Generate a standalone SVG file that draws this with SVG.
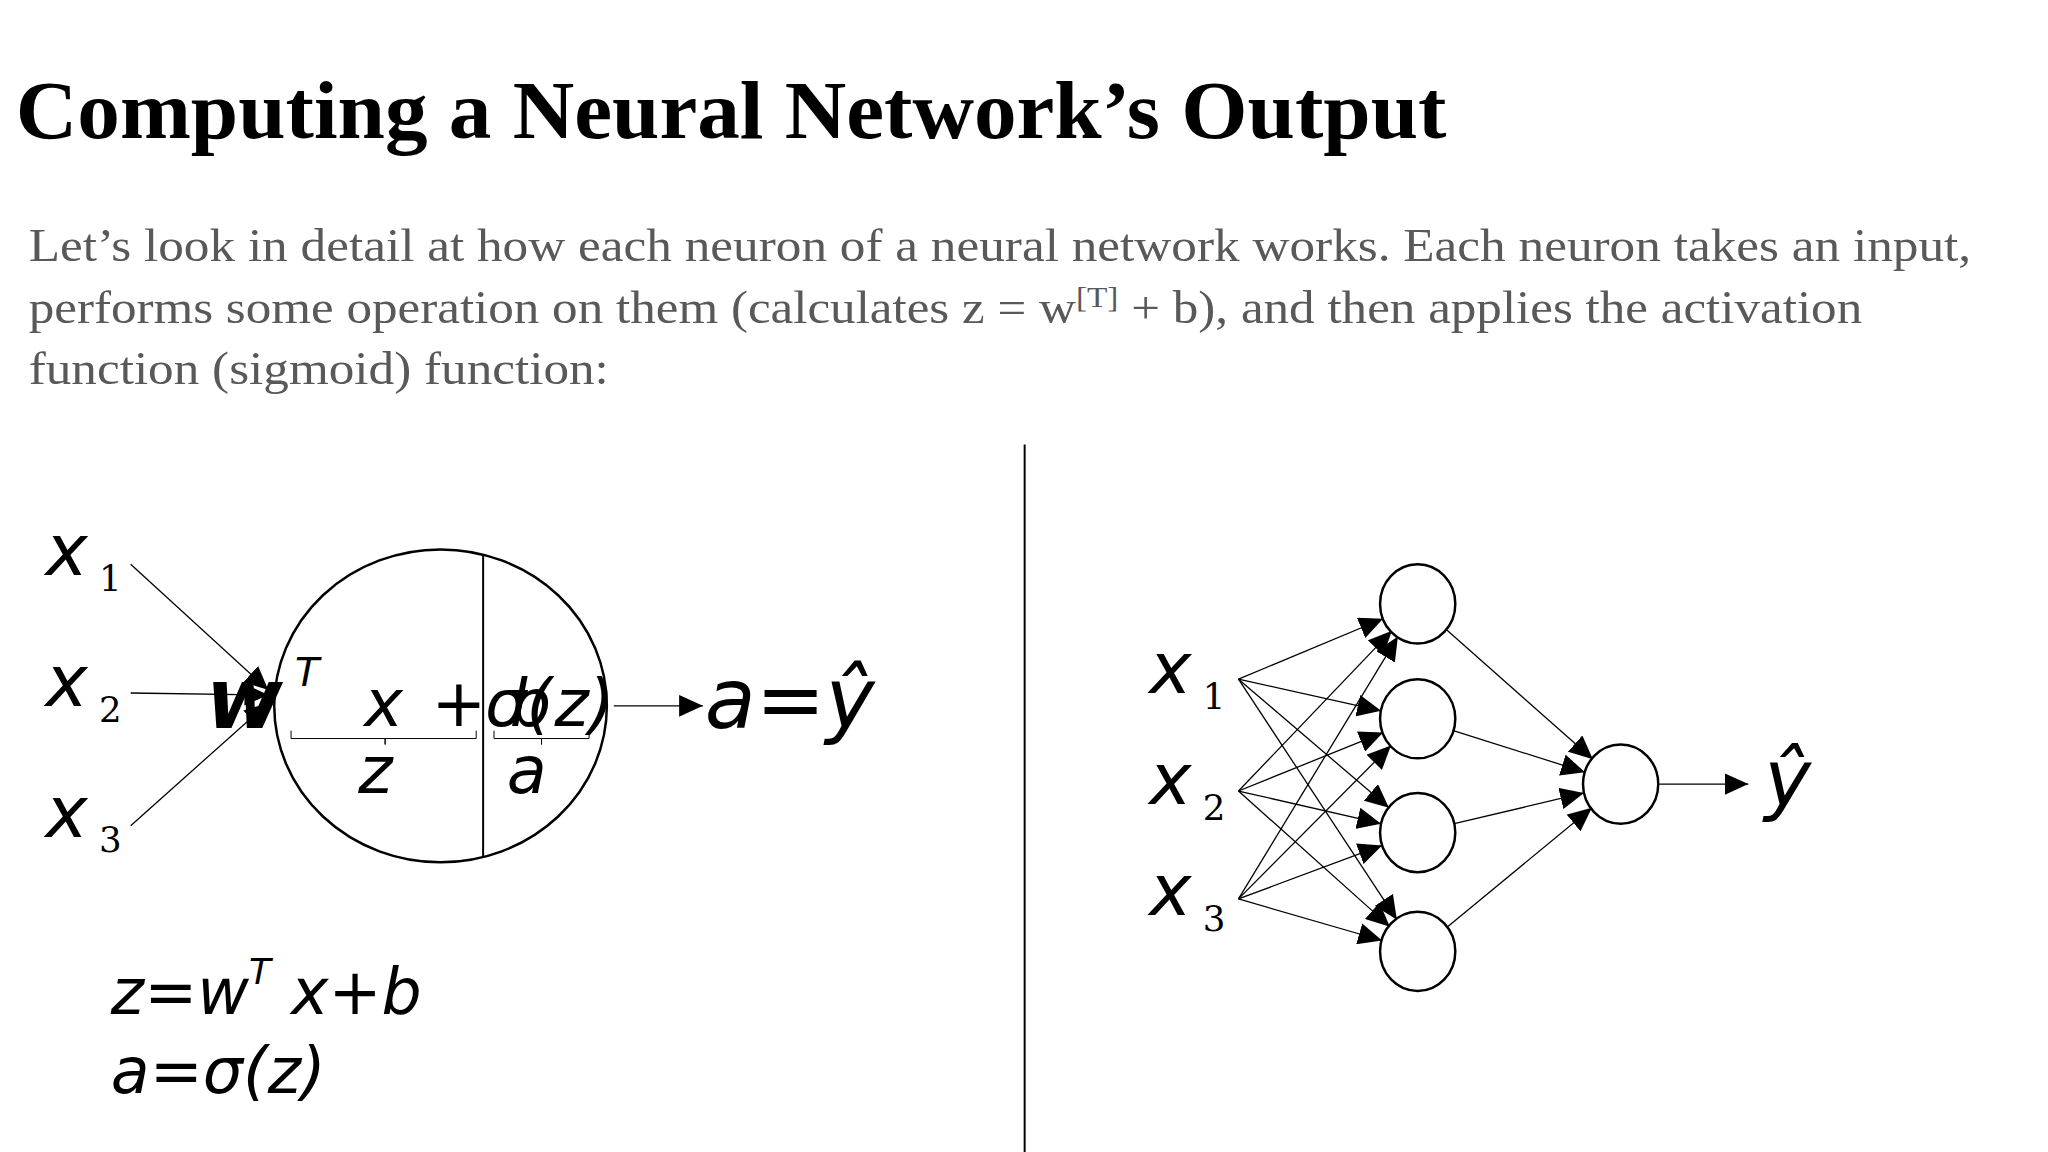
<svg xmlns="http://www.w3.org/2000/svg" width="2048" height="1152" viewBox="0 0 2048 1152">
<style>
.title{font-family:"Liberation Serif",serif;font-weight:bold;font-size:84px;fill:#000}
.para{font-family:"Liberation Serif",serif;font-size:46px;fill:#595959}
.m{font-family:"DejaVu Sans",sans-serif;font-style:italic;fill:#000}
.sub{font-family:"DejaVu Serif",serif;font-size:36px;fill:#000}
.e{stroke:#000;stroke-width:1.3;fill:none;marker-end:url(#ah)}
.n{fill:#fff;stroke:#000;stroke-width:2.5}
</style>
<defs>
<marker id="ah" markerUnits="userSpaceOnUse" markerWidth="26" markerHeight="22" refX="24" refY="11" orient="auto"><path d="M0,0 L24,11 L0,22 Z" fill="#000"/></marker>
</defs>
<rect width="2048" height="1152" fill="#fff"/>
<g transform="scale(0.99)">
<text class="title" x="16" y="139" textLength="1445" lengthAdjust="spacingAndGlyphs">Computing a Neural Network’s Output</text>
<text class="para" x="29" y="264" textLength="1962" lengthAdjust="spacingAndGlyphs">Let’s look in detail at how each neuron of a neural network works. Each neuron takes an input,</text>
<text class="para" x="29" y="326" textLength="1852" lengthAdjust="spacingAndGlyphs">performs some operation on them (calculates z = w<tspan font-size="30" dy="-16">[T]</tspan><tspan dy="16"> + b), and then applies the activation</tspan></text>
<text class="para" x="29" y="388" textLength="586" lengthAdjust="spacingAndGlyphs">function (sigmoid) function:</text>
<line x1="1035" y1="449" x2="1035" y2="1170" stroke="#000" stroke-width="2"/>

<g id="neuron">
<ellipse cx="445" cy="713" rx="168" ry="158" fill="none" stroke="#000" stroke-width="2.5"/>
<line x1="488" y1="561" x2="488" y2="865" stroke="#000" stroke-width="2"/>
<text class="m" x="208" y="735" font-size="84" font-weight="bold">w</text>
<text class="m" x="298" y="693" font-size="40">T</text>
<text class="m" x="368" y="733" font-size="66">x</text>
<text class="m" x="436" y="733" font-size="66">+</text>
<text class="m" x="490" y="733" font-size="66">σ(</text>
<text class="m" x="515" y="733" font-size="66">b</text>
<text class="m" x="560" y="733" font-size="66">z)</text>
<path d="M294,738 v8 h95 v6 M389,752 v-6 h92 v-8" fill="none" stroke="#000" stroke-width="1"/>
<path d="M499,738 v8 h48 v6 M547,752 v-6 h48 v-8" fill="none" stroke="#000" stroke-width="1"/>
<text class="m" x="362" y="801" font-size="66">z</text>
<text class="m" x="512" y="801" font-size="66">a</text>
<text class="m" x="712" y="735" font-size="84">a=ŷ</text>
</g>
<g id="inputs-left">
<text class="m" x="46" y="581" font-size="72">x</text><text class="sub" x="100" y="597">1</text>
<text class="m" x="46" y="713" font-size="72">x</text><text class="sub" x="100" y="729">2</text>
<text class="m" x="46" y="845" font-size="72">x</text><text class="sub" x="100" y="861">3</text>
</g>
<g id="formulas">
<text class="m" x="112" y="1024" font-size="64">z=w<tspan font-size="36" dy="-30">T</tspan><tspan dy="30"> x+b</tspan></text>
<text class="m" x="112" y="1104" font-size="64">a=σ(z)</text>
</g>

<g id="connectors-left">
<line class="e" x1="132" y1="570" x2="271" y2="697"/>
<line class="e" x1="132" y1="700" x2="271" y2="702"/>
<line class="e" x1="132" y1="834" x2="271" y2="710"/>
<line class="e" x1="620" y1="713" x2="710" y2="713"/>
</g>

<g id="inputs-right">
<text class="m" x="1161" y="700" font-size="72">x</text><text class="sub" x="1215" y="716">1</text>
<text class="m" x="1161" y="812" font-size="72">x</text><text class="sub" x="1215" y="828">2</text>
<text class="m" x="1161" y="924" font-size="72">x</text><text class="sub" x="1215" y="940">3</text>
</g>
<g id="connectors-right">
<line class="e" x1="1251" y1="686" x2="1397" y2="625"/>
<line class="e" x1="1251" y1="686" x2="1395" y2="718"/>
<line class="e" x1="1251" y1="686" x2="1403" y2="816"/>
<line class="e" x1="1251" y1="686" x2="1411" y2="929"/>
<line class="e" x1="1251" y1="799" x2="1406" y2="637"/>
<line class="e" x1="1251" y1="799" x2="1397" y2="740"/>
<line class="e" x1="1251" y1="799" x2="1395" y2="832"/>
<line class="e" x1="1251" y1="799" x2="1404" y2="936"/>
<line class="e" x1="1251" y1="908" x2="1412" y2="643"/>
<line class="e" x1="1251" y1="908" x2="1405" y2="753"/>
<line class="e" x1="1251" y1="908" x2="1396" y2="854"/>
<line class="e" x1="1251" y1="908" x2="1396" y2="950"/>
<line class="e" x1="1460" y1="635" x2="1609" y2="767"/>
<line class="e" x1="1468" y1="738" x2="1601" y2="780"/>
<line class="e" x1="1469" y1="832" x2="1600" y2="801"/>
<line class="e" x1="1461" y1="937" x2="1608" y2="816"/>
<line class="e" x1="1676" y1="792" x2="1766" y2="792"/>
</g>
<g id="h1"><ellipse class="n" cx="1432" cy="610" rx="38" ry="40"/></g>
<g id="h2"><ellipse class="n" cx="1432" cy="726" rx="38" ry="40"/></g>
<g id="h3"><ellipse class="n" cx="1432" cy="841" rx="38" ry="40"/></g>
<g id="h4"><ellipse class="n" cx="1432" cy="961" rx="38" ry="40"/></g>
<g id="out"><ellipse class="n" cx="1637" cy="792" rx="38" ry="40"/></g>
<g id="yhat"><text class="m" x="1782" y="814" font-size="80">ŷ</text></g>
</g>
</svg>
